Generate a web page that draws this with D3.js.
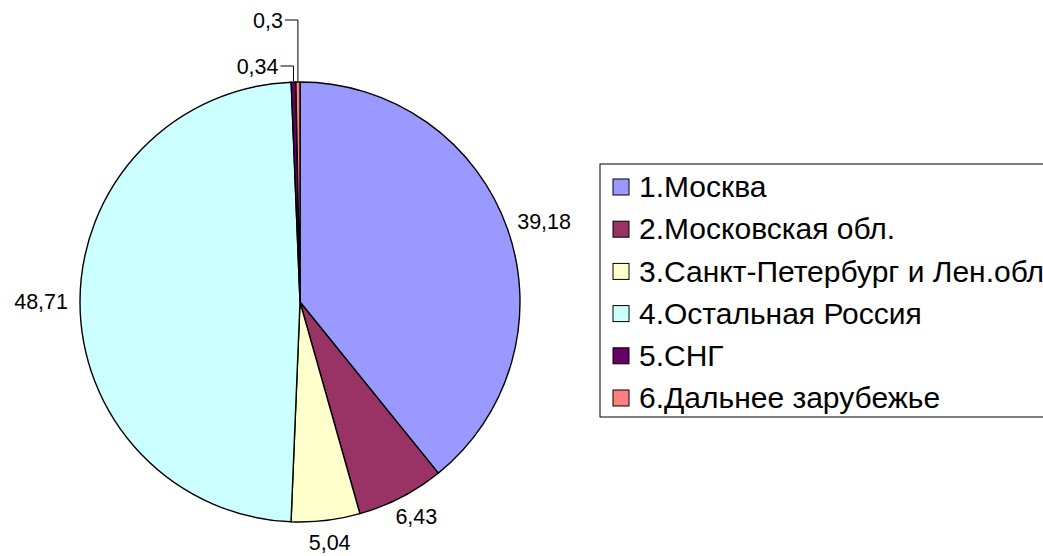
<!DOCTYPE html>
<html lang="ru">
<head>
<meta charset="UTF-8">
<title>Pie</title>
<script src="https://cdn.jsdelivr.net/npm/d3@7"></script>
<style>
    body { margin: 0; background: #fff; }
    text { font-family: Arial, "Liberation Sans", sans-serif; fill: #000; }
</style>
</head>
<body>
<svg width="1043" height="556"></svg>
<script>
    // data
    var categories = ["1.Москва", "2.Московская обл.", "3.Санкт-Петербург и Лен.обл.",
        "4.Остальная Россия", "5.СНГ", "6.Дальнее зарубежье"];
    var values = [39.18, 6.43, 5.04, 48.71, 0.34, 0.3];
    var labels = ["39,18", "6,43", "5,04", "48,71", "0,34", "0,3"];
    var colors = ["#9999FF", "#993366", "#FFFFCC", "#CCFFFF", "#660066", "#FF8080"];

    var svg = d3.select("svg");
    var cx = 300, cy = 302, r = 220;

    var pie = d3.pie().sort(null).value(function(d) { return d; });
    var arcs = pie(values);
    var arc = d3.arc().innerRadius(0).outerRadius(r);

    var g = svg.append("g").attr("transform", "translate(" + cx + "," + cy + ")");

    g.selectAll("path.slice")
        .data(arcs)
        .enter()
        .append("path")
        .attr("class", "slice")
        .attr("d", arc)
        .attr("fill", function(d, i) { return colors[i]; })
        .attr("stroke", "#000")
        .attr("stroke-width", 1.4)
        .attr("stroke-linejoin", "round");

    // big labels placed outside, small ones with leader lines
    var fs = 21.5;
    var leaderY = { 4: -236, 5: -282 };
    arcs.forEach(function(d, i) {
        var a = (d.startAngle + d.endAngle) / 2;
        var sx = Math.sin(a), sy = -Math.cos(a);
        if (leaderY[i] !== undefined) {
            var ex = (r + 1) * sx, ey = (r + 1) * sy;
            var ly = leaderY[i];
            var tx = ex - 13;
            g.append("path")
                .attr("d", "M" + ex + "," + ey + "V" + ly + "H" + tx)
                .attr("fill", "none")
                .attr("stroke", "#000")
                .attr("stroke-width", 1);
            g.append("text")
                .attr("x", tx - 2)
                .attr("y", ly)
                .attr("dy", "0.35em")
                .attr("text-anchor", "end")
                .style("font-size", fs + "px")
                .text(labels[i]);
            return;
        }
        var t = g.append("text")
            .style("font-size", fs + "px")
            .attr("text-anchor", "middle")
            .attr("dy", "0.35em")
            .text(labels[i]);
        var w = t.node().getComputedTextLength();
        var rr = r + 12;
        t.attr("x", rr * sx + (w / 2) * sx)
         .attr("y", rr * sy + 10 * sy);
    });

    // legend
    var lx = 600, ly0 = 164, rowH = 42.2;
    svg.append("rect")
        .attr("x", lx)
        .attr("y", ly0)
        .attr("width", 460)
        .attr("height", 253)
        .attr("fill", "#fff")
        .attr("stroke", "#000")
        .attr("stroke-width", 1);

    var items = svg.selectAll("g.item")
        .data(categories)
        .enter()
        .append("g")
        .attr("class", "item")
        .attr("transform", function(d, i) {
            return "translate(" + (lx + 13) + "," + (187 + i * rowH) + ")";
        });

    items.append("rect")
        .attr("x", 0)
        .attr("y", -8)
        .attr("width", 16)
        .attr("height", 16)
        .attr("fill", function(d, i) { return colors[i]; })
        .attr("stroke", "#000")
        .attr("stroke-width", 1);

    items.append("text")
        .attr("x", 26)
        .attr("dy", "0.34em")
        .style("font-size", "30px")
        .text(function(d) { return d; });
</script>
</body>
</html>
